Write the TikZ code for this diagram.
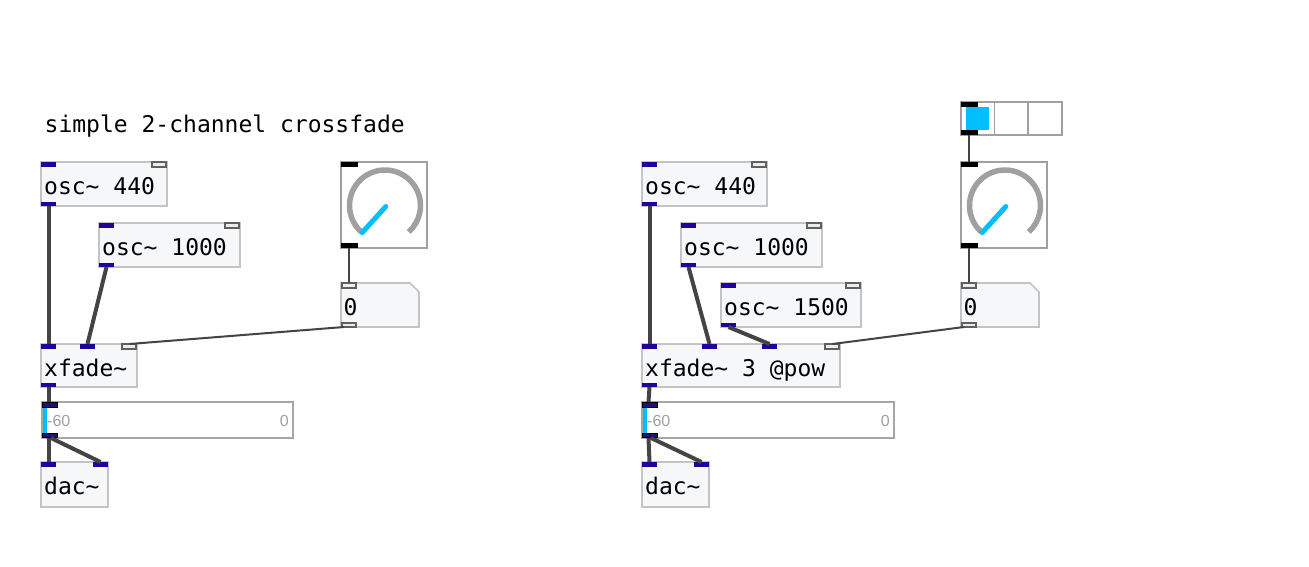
\documentclass[tikz,border=0pt]{standalone}
\usepackage{fontspec}
\newfontfamily\pdmono{DejaVu Sans Mono}
\newfontfamily\pdsans{Liberation Sans}
\usetikzlibrary{calc}
\definecolor{boxfill}{RGB}{246,247,249}
\definecolor{boxline}{RGB}{196,196,196}
\definecolor{guiline}{RGB}{160,160,160}
\definecolor{meterline}{RGB}{166,166,166}
\definecolor{wire}{RGB}{68,68,68}
\definecolor{ctlline}{RGB}{96,96,96}
\definecolor{ctlfill}{RGB}{236,236,236}
\definecolor{cyanc}{RGB}{0,190,255}
\definecolor{mtextc}{RGB}{160,160,160}
\definecolor{sigc}{RGB}{34,0,160}
\definecolor{navyc}{RGB}{30,20,110}
\tikzset{
  pdbox/.style={draw=boxline, fill=boxfill, line width=1.6pt, inner sep=0pt, outer sep=0pt, rectangle},
  guibox/.style={draw=guiline, fill=white, line width=1.5pt, inner sep=0pt, outer sep=0pt, rectangle},
  pdtext/.style={font=\pdmono\fontsize{23pt}{23pt}\selectfont, inner sep=0pt, text=black},
  mtext/.style={font=\pdsans\fontsize{16pt}{16pt}\selectfont, inner sep=0pt, text=mtextc},
  sigwire/.style={draw=wire, line width=4pt},
  ctlwire/.style={draw=wire, line width=2pt},
}
\newcommand\pdobj[6]{%
  \node[pdbox, minimum width=#4pt, minimum height=#5pt, anchor=north west] (#1) at (#2,#3) {};
  \node[pdtext, anchor=base west] (#1-t) at ($(#1.north west)+(3,32)$) {#6};}
\newcommand\sigin[2]{\fill[sigc] ($(#1.north west)+(#2,0)$) rectangle ++(15,4.5);}
\newcommand\sigout[2]{\fill[sigc] ($(#1.south west)+(#2,-4.5)$) rectangle ++(15,4.5);}
\newcommand\ctlin[2]{\filldraw[fill=ctlfill, draw=ctlline, line width=2pt] ($(#1.north west)+(#2+1,0)$) rectangle ++(14,4.5);}
\newcommand\ctlout[2]{\filldraw[fill=ctlfill, draw=ctlline, line width=2pt] ($(#1.south west)+(#2+1,-4.5)$) rectangle ++(14,4.5);}
\newcommand\blkin[1]{\fill[black] ($(#1.north west)+(0,0)$) rectangle ++(17,5);}
\newcommand\blkout[1]{\fill[black] ($(#1.south west)+(0,-5)$) rectangle ++(17,5);}
\newcommand\pddial[3]{%
  \node[guibox, minimum width=86pt, minimum height=86pt, anchor=north west] (#1) at (#2,#3) {};
  \draw[guiline, line width=5.5pt] ($(#1.center)+(1,0.5)+(-228:35.5)$) arc[start angle=-228, end angle=48, radius=35.5];
  \draw[cyanc, line width=5pt, line cap=round] ($(#1.center)+(-21.8,27.6)$) -- ($(#1.center)+(1.8,1.5)$);
  \blkin{#1}\blkout{#1}}
\newcommand\pdnum[5]{%
  \node[rectangle, inner sep=0pt, outer sep=0pt, minimum width=#4pt, minimum height=#5pt, anchor=north west] (#1) at (#2,#3) {};
  \filldraw[fill=boxfill, draw=boxline, line width=1.6pt] (#1.north west) -- ($(#1.north east)+(-9,0)$) -- ($(#1.north east)+(0,9)$) -- (#1.south east) -- (#1.south west) -- cycle;
  \node[pdtext, anchor=base west] (#1-t) at ($(#1.north west)+(2.5,32)$) {0};
  \ctlin{#1}{0}\ctlout{#1}{0}}
\newcommand\pdmeter[4]{%
  \node[guibox, draw=meterline, line width=2pt, minimum width=#4pt, minimum height=36pt, anchor=north west] (#1) at (#2,#3) {};
  \fill[cyanc] ($(#1.north west)+(1,4)$) rectangle ($(#1.south west)+(4.5,-4)$);
  \node[mtext, anchor=base west] (#1-a) at ($(#1.north west)+(5,24)$) {-60};
  \node[mtext, anchor=base east] (#1-b) at ($(#1.north east)+(-4,24)$) {0};
  \filldraw[fill=navyc, draw=black, line width=1pt] ($(#1.north west)+(0.5,0.5)$) rectangle ++(15,4.5);
  \filldraw[fill=navyc, draw=black, line width=1pt] ($(#1.south west)+(0.5,-5)$) rectangle ++(15,4.5);}
\begin{document}
\begin{tikzpicture}[x=1pt,y=-1pt]
\useasboundingbox[fill=white] (0,0) rectangle (1309,567);
% ---------- left patch ----------
\node[pdtext, anchor=base west] (cmt) at (44.5,133) {simple 2-channel crossfade};
\pdobj{osc1L}{41}{162}{126}{44}{osc\textasciitilde{} 440}
\sigin{osc1L}{0}\ctlin{osc1L}{110}\sigout{osc1L}{0}
\pdobj{osc2L}{99}{223}{141}{44}{osc\textasciitilde{} 1000}
\sigin{osc2L}{0}\ctlin{osc2L}{125}\sigout{osc2L}{0}
\pddial{dialL}{341}{162}
\pdnum{numL}{341}{283}{78}{44}
\pdobj{xfL}{41}{344}{96}{43}{xfade\textasciitilde}
\sigin{xfL}{0}\sigin{xfL}{39}\ctlin{xfL}{80}\sigout{xfL}{0}
\pdmeter{mtrL}{42}{402}{251}
\pdobj{dacL}{41}{462}{67}{45}{dac\textasciitilde}
\sigin{dacL}{0}\sigin{dacL}{52}
% ---------- right patch ----------
\pdobj{osc1R}{642}{162}{125}{44}{osc\textasciitilde{} 440}
\sigin{osc1R}{0}\ctlin{osc1R}{109}\sigout{osc1R}{0}
\pdobj{osc2R}{681}{223}{141}{44}{osc\textasciitilde{} 1000}
\sigin{osc2R}{0}\ctlin{osc2R}{125}\sigout{osc2R}{0}
\pdobj{osc3R}{721}{283}{140}{44}{osc\textasciitilde{} 1500}
\sigin{osc3R}{0}\ctlin{osc3R}{124}\sigout{osc3R}{0}
\node[guibox, minimum width=101pt, minimum height=33pt, anchor=north west] (radR) at (961,102) {};
\draw[guiline, line width=1.5pt] ($(radR.north west)+(33.5,0)$) -- ($(radR.south west)+(33.5,0)$);
\draw[guiline, line width=1.5pt] ($(radR.north west)+(67,0)$) -- ($(radR.south west)+(67,0)$);
\fill[cyanc] ($(radR.north west)+(5,5.5)$) rectangle ++(23,23);
\blkin{radR}\blkout{radR}
\pddial{dialR}{961}{162}
\pdnum{numR}{961}{283}{78}{44}
\pdobj{xfR}{642}{344}{198}{43}{xfade\textasciitilde{} 3 @pow}
\sigin{xfR}{0}\sigin{xfR}{60}\sigin{xfR}{120}\ctlin{xfR}{182}\sigout{xfR}{0}
\pdmeter{mtrR}{642}{402}{252}
\pdobj{dacR}{642}{462}{67}{45}{dac\textasciitilde}
\sigin{dacR}{0}\sigin{dacR}{52}
% ---------- wires left ----------
\draw[sigwire] ($(osc1L.south west)+(7.5,0)$) -- ($(xfL.north west)+(7.5,0)$);
\draw[sigwire] ($(osc2L.south west)+(7.5,0)$) -- ($(xfL.north west)+(46.5,0)$);
\draw[ctlwire] ($(dialL.south west)+(7.5,0)$) -- ($(numL.north west)+(7.5,0)$);
\draw[ctlwire] ($(numL.south west)+(3,0)$) -- ($(xfL.north west)+(88.5,0)$);
\draw[sigwire] ($(xfL.south west)+(7.5,0)$) -- ($(mtrL.north west)+(6.5,0)$);
\draw[sigwire] ($(mtrL.south west)+(6.5,0)$) -- ($(dacL.north west)+(7.5,0)$);
\draw[sigwire] ($(mtrL.south west)+(9,0)$) -- ($(dacL.north west)+(59.5,0)$);
% ---------- wires right ----------
\draw[sigwire] ($(osc1R.south west)+(7.5,0)$) -- ($(xfR.north west)+(7.5,0)$);
\draw[sigwire] ($(osc2R.south west)+(7.5,0)$) -- ($(xfR.north west)+(67.5,0)$);
\draw[sigwire] ($(osc3R.south west)+(7.5,0)$) -- ($(xfR.north west)+(127.5,0)$);
\draw[ctlwire] ($(radR.south west)+(7.5,0)$) -- ($(dialR.north west)+(7.5,0)$);
\draw[ctlwire] ($(dialR.south west)+(7.5,0)$) -- ($(numR.north west)+(7.5,0)$);
\draw[ctlwire] ($(numR.south west)+(3,0)$) -- ($(xfR.north west)+(190.5,0)$);
\draw[sigwire] ($(xfR.south west)+(7.5,0)$) -- ($(mtrR.north west)+(6.5,0)$);
\draw[sigwire] ($(mtrR.south west)+(6.5,0)$) -- ($(dacR.north west)+(7.5,0)$);
\draw[sigwire] ($(mtrR.south west)+(9,0)$) -- ($(dacR.north west)+(59.5,0)$);
\end{tikzpicture}
\end{document}
